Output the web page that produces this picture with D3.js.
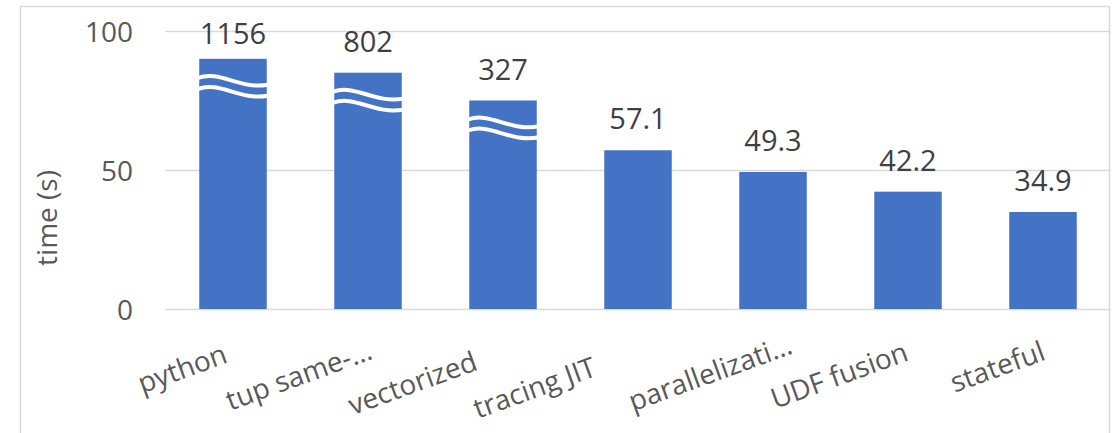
<!DOCTYPE html>
<html>
<head>
<meta charset="utf-8">
<script src="https://cdn.jsdelivr.net/npm/d3@7"></script>
<style>
  html, body { margin: 0; padding: 0; background: #fff; }
  svg { display: block; }
  text { font-family: "Open Sans", "Noto Sans", sans-serif; }
</style>
</head>
<body>
<svg id="chart" width="1115" height="433"></svg>
<script>
// ---- data ----
const categories = ["python", "tup same-…", "vectorized", "tracing JIT", "parallelizati…", "UDF fusion", "stateful"];
const labelValues = [1156, 802, 327, 57.1, 49.3, 42.2, 34.9];   // printed value
const drawnValues = [90, 85, 75, 57.1, 49.3, 42.2, 34.9];       // bar height on the (broken) axis
const brokenBars  = [true, true, true, false, false, false, false];
const yTicks = [0, 50, 100];
const yTitle = "time (s)";

// ---- layout ----
const svg = d3.select("#chart");
const plot = { left: 165.5, right: 1110.5, top: 31, bottom: 309 };
const barColor = "#4472C4";
const gridColor = "#d9d9d9";
const textColor = "#595959";
const labelColor = "#404040";
const labelAngle = -20;
// horizontal nudges of the rotated category labels (slid along their baseline)
const labelNudge = [0, 10, -20, -36, 25, 6, 8];

// chart border
svg.append("rect")
  .attr("x", 20.5).attr("y", 6.5)
  .attr("width", 1089).attr("height", 460)
  .attr("fill", "none").attr("stroke", "#d9d9d9").attr("stroke-width", 1.5);

const x = d3.scaleBand().domain(categories).range([plot.left, plot.right])
  .paddingInner(0.5).paddingOuter(0.25);
const y = d3.scaleLinear().domain([0, 100]).range([plot.bottom, plot.top]);

// gridlines
const grid = svg.append("g").attr("transform", `translate(${plot.left},0)`)
  .call(d3.axisLeft(y).tickValues(yTicks).tickSize(-(plot.right - plot.left)).tickFormat(""));
grid.select(".domain").remove();
grid.selectAll(".tick line").attr("stroke", gridColor).attr("stroke-width", 1.5);

// y tick labels
const yAxis = svg.append("g").attr("transform", `translate(133,0)`)
  .call(d3.axisLeft(y).tickValues(yTicks).tickSize(0).tickPadding(0));
yAxis.select(".domain").remove();
yAxis.selectAll("text")
  .attr("fill", textColor).style("font-size", "28px").attr("dy", "0.36em");

// y title
svg.append("text")
  .attr("transform", "translate(57,218) rotate(-90)")
  .attr("text-anchor", "middle")
  .attr("fill", textColor).style("font-size", "28px")
  .text(yTitle);

// bars
const data = categories.map((c, i) => ({ c, v: drawnValues[i], label: labelValues[i], broken: brokenBars[i] }));
svg.append("g").selectAll("rect").data(data).join("rect")
  .attr("x", d => x(d.c))
  .attr("y", d => y(d.v))
  .attr("width", x.bandwidth())
  .attr("height", d => y(0) - y(d.v))
  .attr("fill", barColor);

// break marks (white waves)
const bw = x.bandwidth();
const wave = (x0, y0) => `M${x0 - 1},${y0} C${x0 + bw * 0.3},${y0 - 8} ${x0 + bw * 0.6},${y0 + 12} ${x0 + bw + 1},${y0 + 7}`;
const breaks = svg.append("g");
data.filter(d => d.broken).forEach(d => {
  const x0 = x(d.c), top = y(d.v);
  [19, 30].forEach(off => {
    breaks.append("path").attr("d", wave(x0, top + off))
      .attr("fill", "none").attr("stroke", "#fff").attr("stroke-width", 4);
  });
});

// value labels
svg.append("g").selectAll("text").data(data).join("text")
  .attr("x", d => x(d.c) + bw / 2)
  .attr("y", d => Math.max(y(d.v) - 21, 44))
  .attr("text-anchor", "middle")
  .attr("fill", labelColor).style("font-size", "29px")
  .text(d => d.label);

// category axis (rotated labels)
const tanA = Math.tan(-labelAngle * Math.PI / 180);
const xAxis = svg.append("g").attr("transform", `translate(0,${plot.bottom})`)
  .call(d3.axisBottom(x).tickSize(0).tickPadding(0));
xAxis.select(".domain").remove();
xAxis.selectAll("text")
  .attr("fill", textColor).style("font-size", "28px")
  .attr("text-anchor", "end")
  .attr("transform", (d, i) => {
    const n = labelNudge[i];
    return `translate(${-4 + n},${53 - n * tanA}) rotate(${labelAngle})`;
  })
  .attr("dy", "0");
</script>
</body>
</html>
